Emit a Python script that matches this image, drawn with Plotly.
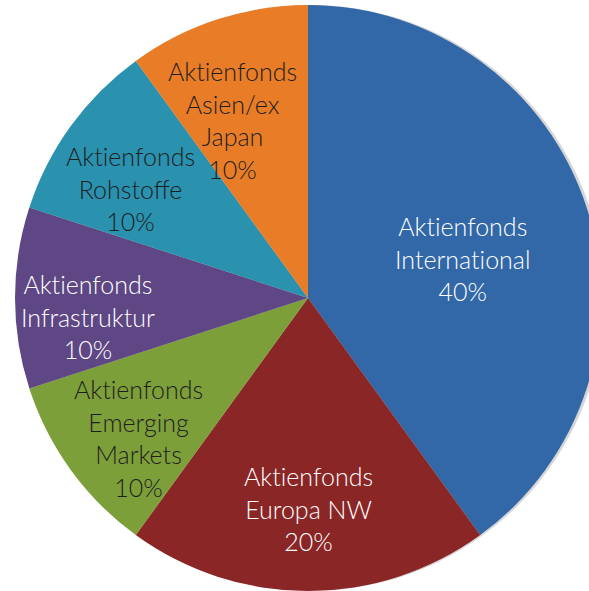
import math
import plotly.graph_objects as go

ZW = "\u200c"  # prevents the "ti" ligature
names = ["Akt" + ZW + "ienfonds<br>Internat" + ZW + "ional", "Akt" + ZW + "ienfonds<br>Europa NW",
         "Akt" + ZW + "ienfonds<br>Emerging<br>Markets", "Akt" + ZW + "ienfonds<br>Infrastruktur",
         "Akt" + ZW + "ienfonds<br>Rohstoffe", "Akt" + ZW + "ienfonds<br>Asien/ex<br>Japan"]
values = [40, 20, 10, 10, 10, 10]
colors = ["#3268A8", "#8A2626", "#7D9F3A", "#5E4784", "#2A91AE", "#E97D27"]
text_colors = ["#FFFFFF", "#FFFFFF", "#1E1E1E", "#FFFFFF", "#1E1E1E", "#1E1E1E"]
# label placement: radius fraction and angular offset (deg) from slice bisector
label_r = [0.543, 0.72, 0.751, 0.754, 0.714, 0.661]
label_da = [3.8, 0, -3.5, -4.9, -4.3, -5.1]

W, H = 620, 591
CX, CY, R = 308, 298, 293  # pixel centre / radius of the pie
dom_x = [(CX - R) / W, (CX + R) / W]
dom_y = [max(0, (H - CY - R) / H), min(1, (H - CY + R) / H)]

fig = go.Figure()
# soft shadow
fig.add_trace(go.Pie(
    values=[1], sort=False, marker=dict(colors=["rgba(0,0,0,0.16)"], line=dict(width=0)),
    textinfo="none", hoverinfo="skip", showlegend=False,
    domain=dict(x=[dom_x[0] + 3 / W, dom_x[1] + 3 / W], y=dom_y),
))
fig.add_trace(go.Pie(
    labels=names, values=values, sort=False, direction="clockwise", rotation=0,
    marker=dict(colors=colors, line=dict(width=0)),
    textinfo="none", hoverinfo="none", showlegend=False,
    domain=dict(x=dom_x, y=dom_y),
))

total = sum(values)
cum = 0
for name, v, tc, rf, da in zip(names, values, text_colors, label_r, label_da):
    mid = (cum + v / 2) / total * 360 + da
    cum += v
    a = math.radians(mid)
    px = CX + rf * R * math.sin(a)
    py = CY - rf * R * math.cos(a)
    fig.add_annotation(
        x=px / W, y=1 - py / H, xref="paper", yref="paper",
        text=f"{name}<br>{v / total:.0%}", showarrow=False,
        xanchor="center", yanchor="middle", align="center",
        font=dict(family="Lato", size=25, color=tc, weight=300),
    )

fig.update_layout(width=W, height=H, margin=dict(l=0, r=0, t=0, b=0),
                  paper_bgcolor="white", plot_bgcolor="white")
fig.write_html("out.html", config={"displayModeBar": False},
               post_script="document.body.style.margin='0';document.body.style.overflow='hidden';document.documentElement.style.overflow='hidden';")
